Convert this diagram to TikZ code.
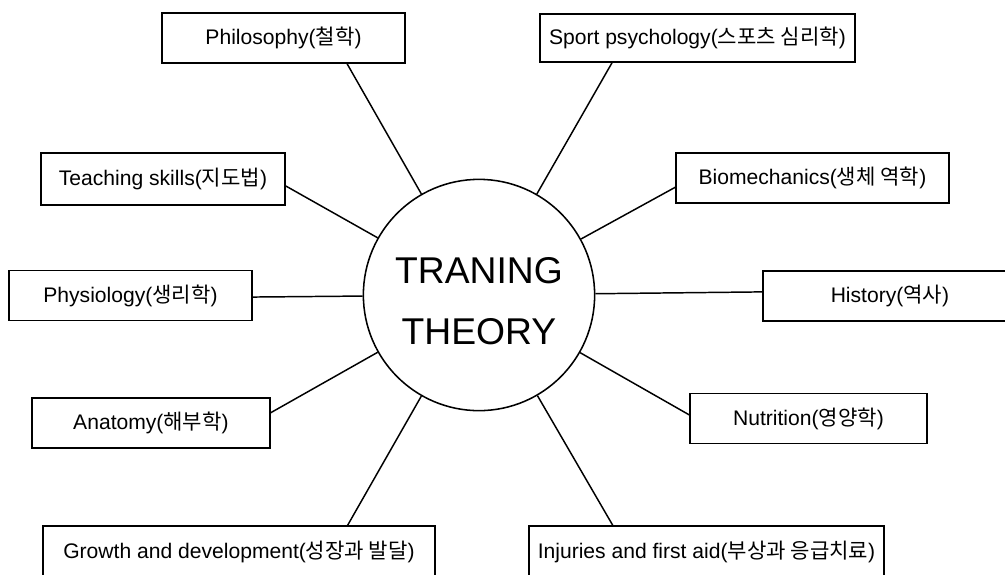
\documentclass[tikz,border=0pt]{standalone}
\usepackage{fontspec}
\setmainfont{Liberation Sans}
\newfontfamily\kr{Noto Sans CJK KR}
\usetikzlibrary{calc}

\begin{document}
\begin{tikzpicture}[x=0.025cm, y=-0.025cm,
    box/.style={draw, line width=1pt, fill=white, inner sep=0pt,
        minimum height=1.25cm, font=\fontsize{15}{16}\selectfont},
    hub/.style={draw, circle, line width=1.1pt, minimum size=5.78cm, inner sep=0pt},
    link/.style={line width=1.05pt}]
    \clip (0,0) rectangle (1005,574);

    % centre
    \node[hub] (theory) at (479,295) {};
    \node[align=center, font=\fontsize{26.5}{43.4}\selectfont] (title) at (479,301) {TRANING\\THEORY};

    % subjects
    \node[box, minimum width=6.075cm] (philo) at (283.5,38) {Philosophy({\kr 철학})};
    \node[box, minimum width=7.875cm, minimum height=1.2cm] (sport) at (697.5,38) {Sport psychology({\kr 스포츠 심리학})};
    \node[box, minimum width=6.1cm, minimum height=1.3cm] (teach) at (163,179) {Teaching skills({\kr 지도법})};
    \node[box, minimum width=6.825cm] (biomech) at (812.5,178) {Biomechanics({\kr 생체 역학})};
    \node[box, minimum width=6.075cm] (physio) at (130.5,295.5) {Physiology({\kr 생리학})};
    \node[box, minimum width=6.35cm] (history) at (890,296) {History({\kr 역사})};
    \node[box, minimum width=5.95cm] (anatomy) at (151,423) {Anatomy({\kr 해부학})};
    \node[box, minimum width=5.925cm] (nutri) at (808.5,418.5) {Nutrition({\kr 영양학})};
    \node[box, minimum width=9.8cm, minimum height=1.3cm] (growth) at (239,552) {Growth and development({\kr 성장과 발달})};
    \node[box, minimum width=8.875cm, minimum height=1.3cm] (injury) at (706.5,552) {Injuries and first aid({\kr 부상과 응급치료})};

    % spokes
    \draw[link] (theory) -- ($(philo.south west)!.76!(philo.south east)$);
    \draw[link] (theory) -- ($(sport.south west)!.23!(sport.south east)$);
    \draw[link] (theory) -- ($(teach.north east)!.63!(teach.south east)$);
    \draw[link] (theory) -- ($(biomech.north west)!.68!(biomech.south west)$);
    \draw[link] (theory) -- ($(physio.north east)!.53!(physio.south east)$);
    \draw[link] (theory) -- ($(history.north west)!.42!(history.south west)$);
    \draw[link] (theory) -- ($(anatomy.north east)!.3!(anatomy.south east)$);
    \draw[link] (theory) -- ($(nutri.north west)!.43!(nutri.south west)$);
    \draw[link] (theory) -- ($(growth.north west)!.776!(growth.north east)$);
    \draw[link] (theory) -- ($(injury.north west)!.237!(injury.north east)$);
\end{tikzpicture}
\end{document}
